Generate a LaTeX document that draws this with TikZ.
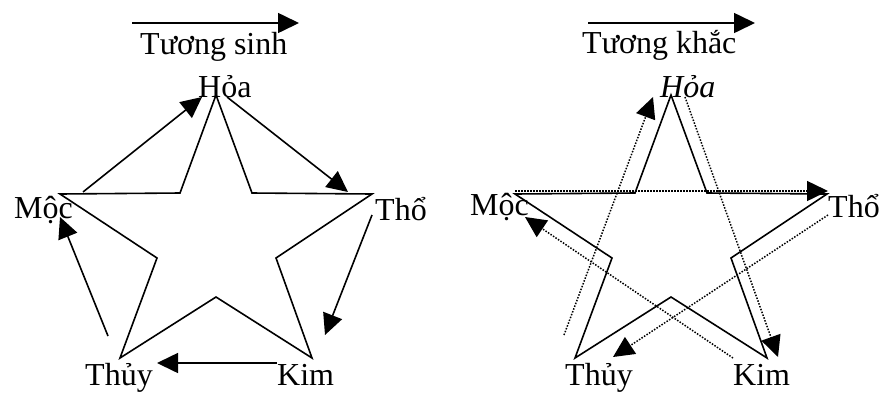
\documentclass[tikz,border=0pt]{standalone}
\usepackage{fontspec}
\setmainfont{Liberation Serif}
\usetikzlibrary{arrows.meta}
\begin{document}
\begin{tikzpicture}[x=1pt,y=-1pt,
 lbl/.style={anchor=base west,inner sep=0pt,font=\fontsize{32}{38}\selectfont},
 starline/.style={line width=1.6pt,line join=miter},
 arr/.style={line width=1.6pt,-{Triangle[length=21pt,width=20pt]}},
 darr/.style={line width=1.5pt,dash pattern=on 1.5pt off 1.5pt,-{Triangle[length=21pt,width=20pt]}}]
\useasboundingbox (0,0) rectangle (883,392);

% ---------- left: Tuong sinh ----------
\coordinate (lg1s) at (132,23); \coordinate (lg1e) at (299,23);
\draw[arr] (lg1s) -- (lg1e);
\node[lbl] (ts) at (140,54) {Tương sinh};
\node[lbl] (hoaL) at (198,97) {Hỏa};
\node[lbl] (mocL) at (14,218) {Mộc};
\node[lbl] (thoL) at (375,220) {Thổ};
\node[lbl] (thuyL) at (85,385) {Thủy};
\node[lbl] (kimL) at (277,385) {Kim};

\draw[starline] (216,95) -- (252,193) -- (372,194) -- (276,258) -- (312,358)
  -- (216,297) -- (120,358) -- (157,258) -- (60,194) -- (180,193) -- cycle;

\coordinate (a1s) at (83,192);  \coordinate (a1e) at (202,97);
\coordinate (a2s) at (227,97);  \coordinate (a2e) at (348,192);
\coordinate (a3s) at (372,215); \coordinate (a3e) at (325,335);
\coordinate (a4s) at (277,363); \coordinate (a4e) at (157,363);
\coordinate (a5s) at (108,336); \coordinate (a5e) at (60,217);
\draw[arr] (a1s) -- (a1e);
\draw[arr] (a2s) -- (a2e);
\draw[arr] (a3s) -- (a3e);
\draw[arr] (a4s) -- (a4e);
\draw[arr] (a5s) -- (a5e);

% ---------- right: Tuong khac ----------
\coordinate (lg2s) at (588,23); \coordinate (lg2e) at (755,23);
\draw[arr] (lg2s) -- (lg2e);
\node[lbl] (tk) at (582,53) {Tương khắc};
\node[lbl,font=\fontsize{32}{38}\selectfont\itshape] (hoaR) at (660,97) {Hỏa};
\node[lbl] (mocR) at (470,215) {Mộc};
\node[lbl] (thoR) at (828,217) {Thổ};
\node[lbl] (thuyR) at (565,385) {Thủy};
\node[lbl] (kimR) at (733,385) {Kim};

\begin{scope}[xshift=455pt]
\draw[starline] (216,95) -- (252,193) -- (372,194) -- (276,258) -- (312,358)
  -- (216,297) -- (120,358) -- (157,258) -- (60,194) -- (180,193) -- cycle;
\end{scope}

\coordinate (b1s) at (515,191); \coordinate (b1e) at (828,191);
\coordinate (b2s) at (828,215); \coordinate (b2e) at (613,357);
\coordinate (b3s) at (564,335); \coordinate (b3e) at (653,97);
\coordinate (b4s) at (685,97);  \coordinate (b4e) at (778,357);
\coordinate (b5s) at (733,358); \coordinate (b5e) at (525,217);
\draw[darr] (b1s) -- (b1e);
\draw[darr] (b2s) -- (b2e);
\draw[darr] (b3s) -- (b3e);
\draw[darr] (b4s) -- (b4e);
\draw[darr] (b5s) -- (b5e);
\end{tikzpicture}
\end{document}
